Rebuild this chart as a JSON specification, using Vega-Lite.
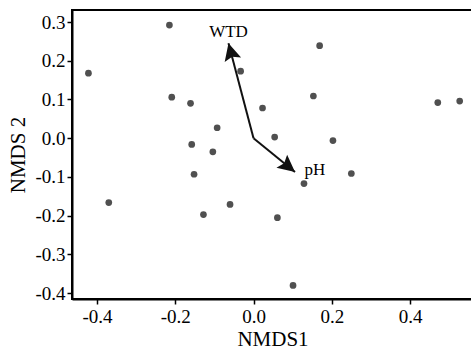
{
  "$schema": "https://vega.github.io/schema/vega-lite/v6.json",
  "width": 401,
  "height": 289,
  "autosize": {"type": "none"},
  "padding": {"left": 72, "top": 10, "right": 0, "bottom": 50},
  "background": "white",
  "config": {
    "font": "Liberation Serif",
    "view": {"stroke": "black", "strokeWidth": 2},
    "axis": {
      "grid": false,
      "domainColor": "black",
      "domainWidth": 2,
      "tickColor": "black",
      "tickWidth": 1.5,
      "tickSize": 5,
      "labelFontSize": 19,
      "labelColor": "black",
      "titleFontSize": 21,
      "titleFontWeight": "normal",
      "titleColor": "black"
    }
  },
  "datasets": {
    "sites": [
      {"NMDS1": -0.215, "NMDS2": 0.292},
      {"NMDS1": -0.422, "NMDS2": 0.168},
      {"NMDS1": -0.209, "NMDS2": 0.106},
      {"NMDS1": -0.161, "NMDS2": 0.090},
      {"NMDS1": -0.093, "NMDS2": 0.027},
      {"NMDS1": -0.158, "NMDS2": -0.016},
      {"NMDS1": -0.104, "NMDS2": -0.035},
      {"NMDS1": -0.152, "NMDS2": -0.093},
      {"NMDS1": 0.169, "NMDS2": 0.239},
      {"NMDS1": -0.033, "NMDS2": 0.173},
      {"NMDS1": 0.153, "NMDS2": 0.109},
      {"NMDS1": 0.023, "NMDS2": 0.078},
      {"NMDS1": 0.471, "NMDS2": 0.092},
      {"NMDS1": 0.527, "NMDS2": 0.096},
      {"NMDS1": 0.054, "NMDS2": 0.003},
      {"NMDS1": 0.203, "NMDS2": -0.006},
      {"NMDS1": 0.250, "NMDS2": -0.091},
      {"NMDS1": -0.370, "NMDS2": -0.166},
      {"NMDS1": -0.128, "NMDS2": -0.197},
      {"NMDS1": -0.060, "NMDS2": -0.171},
      {"NMDS1": 0.129, "NMDS2": -0.117},
      {"NMDS1": 0.061, "NMDS2": -0.205},
      {"NMDS1": 0.101, "NMDS2": -0.380}
    ],
    "vectors": [
      {"var": "WTD", "x0": 0, "y0": 0, "x": -0.064, "y": 0.245},
      {"var": "pH", "x0": 0, "y0": 0, "x": 0.106, "y": -0.087}
    ]
  },
  "layer": [
    {
      "data": {"name": "sites"},
      "mark": {"type": "circle", "size": 45, "color": "#505050", "opacity": 1},
      "encoding": {
        "x": {
          "field": "NMDS1", "type": "quantitative",
          "scale": {"domain": [-0.464, 0.561], "nice": false, "zero": false},
          "axis": {
            "values": [-0.4, -0.2, 0, 0.2, 0.4],
            "labelExpr": "replace(format(datum.value, '.1f'), '\u2212', '-')",
            "title": "NMDS1", "labelPadding": 3, "titlePadding": 2,
            "encode": {
              "labels": {"update": {"font": {"value": "Liberation Serif"}}},
              "title": {"update": {"font": {"value": "Liberation Serif"}}}
            }
          }
        },
        "y": {
          "field": "NMDS2", "type": "quantitative",
          "scale": {"domain": [-0.415, 0.331], "nice": false, "zero": false},
          "axis": {
            "values": [-0.4, -0.3, -0.2, -0.1, 0, 0.1, 0.2, 0.3],
            "labelExpr": "replace(format(datum.value, '.1f'), '\u2212', '-')",
            "title": "NMDS 2", "labelPadding": 2, "titlePadding": 6,
            "encode": {
              "labels": {"update": {"font": {"value": "Liberation Serif"}}},
              "title": {"update": {"font": {"value": "Liberation Serif"}}}
            }
          }
        }
      }
    },
    {
      "data": {"name": "vectors"},
      "mark": {"type": "rule", "color": "#111111", "strokeWidth": 2},
      "encoding": {
        "x": {"field": "x0", "type": "quantitative"},
        "y": {"field": "y0", "type": "quantitative"},
        "x2": {"field": "x"},
        "y2": {"field": "y"}
      }
    },
    {
      "data": {"name": "vectors"},
      "transform": [{"filter": "datum.var === 'WTD'"}],
      "mark": {"type": "point", "filled": true, "color": "#111111", "opacity": 1, "shape": "M0,0L0.5,1L0,0.82L-0.5,1Z", "size": 1156, "angle": 345},
      "encoding": {
        "x": {"field": "x", "type": "quantitative"},
        "y": {"field": "y", "type": "quantitative"}
      }
    },
    {
      "data": {"name": "vectors"},
      "transform": [{"filter": "datum.var === 'pH'"}],
      "mark": {"type": "point", "filled": true, "color": "#111111", "opacity": 1, "shape": "M0,0L0.5,1L0,0.82L-0.5,1Z", "size": 1156, "angle": 129},
      "encoding": {
        "x": {"field": "x", "type": "quantitative"},
        "y": {"field": "y", "type": "quantitative"}
      }
    },
    {
      "data": {"name": "vectors"},
      "transform": [{"filter": "datum.var === 'WTD'"}],
      "mark": {"type": "text", "font": "Liberation Serif", "fontSize": 17, "color": "black", "align": "center", "baseline": "middle", "dy": -11},
      "encoding": {
        "x": {"field": "x", "type": "quantitative"},
        "y": {"field": "y", "type": "quantitative"},
        "text": {"field": "var"}
      }
    },
    {
      "data": {"name": "vectors"},
      "transform": [{"filter": "datum.var === 'pH'"}],
      "mark": {"type": "text", "font": "Liberation Serif", "fontSize": 17, "color": "black", "align": "center", "baseline": "middle", "dx": 20, "dy": -2},
      "encoding": {
        "x": {"field": "x", "type": "quantitative"},
        "y": {"field": "y", "type": "quantitative"},
        "text": {"field": "var"}
      }
    }
  ]
}
